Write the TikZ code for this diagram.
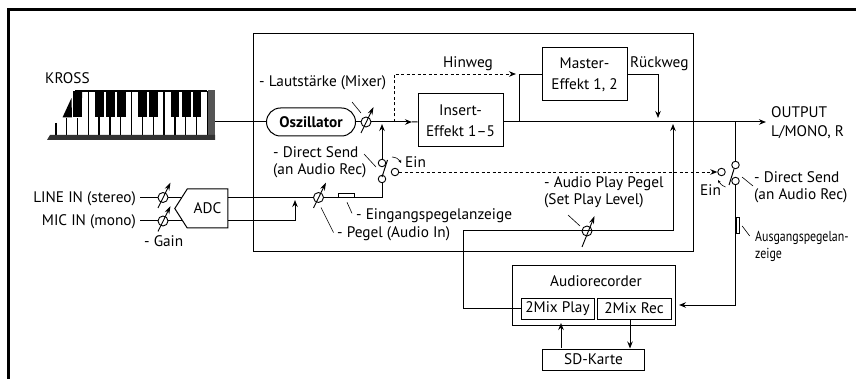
\documentclass[tikz,border=0pt]{standalone}
\usepackage{fontspec}
\setmainfont{PT Sans}
\newfontface\narrowface[FakeStretch=0.82]{PT Sans}
\usetikzlibrary{positioning, calc, backgrounds, arrows.meta, shapes.symbols}
\definecolor{kbdPanel}{HTML}{555555}
\definecolor{kbdBase}{HTML}{333333}
\newcommand{\pegel}[4]{%
  \node[knob] (#1) at (#2,#3) {};
  \draw[knobarr] ($(#1)+(-5,#4)$) -- ($(#1)+(7.5,-15)$);
}

\begin{document}
\begin{tikzpicture}[
    x=1pt, y=-1pt,
    >={Stealth[length=7pt,width=5.5pt]},
    box/.style={draw, line width=1pt, inner sep=0pt, align=center,
                font=\fontsize{15.3}{21}\selectfont},
    wire/.style={line width=1pt},
    arr/.style={->, line width=1pt},
    dasharr/.style={->, line width=0.9pt, dash pattern=on 3pt off 2.5pt},
    lead/.style={line width=0.6pt},
    knob/.style={circle, draw, line width=0.9pt, inner sep=0pt, minimum size=10pt},
    knobarr/.style={-{Stealth[length=8pt,width=5pt]}, line width=0.9pt},
    contact/.style={circle, draw, line width=0.9pt, inner sep=0pt, minimum size=7.5pt},
    meter/.style={draw, fill=white, line width=0.7pt, inner sep=0pt},
    lbl/.style={inner sep=0pt, anchor=west, align=left, text height=10pt, text depth=0pt,
                font=\fontsize{15.3}{17}\selectfont},
    multilbl/.style={inner sep=0pt, anchor=west, align=left,
                font=\fontsize{15.3}{17}\selectfont},
]
\useasboundingbox (0,0) rectangle (856,379);
\draw[line width=2.7pt] (8.7,379) |- (856,9.7);

% effects section
\node[draw, line width=1pt, minimum width=440pt, minimum height=218pt] (fx) at (473,143) {};

% keyboard
\node[minimum width=168pt, minimum height=49pt, inner sep=0pt] (kbd) at (131,115.5) {};
\foreach \x in {88.3,99,110,120.7,131.7,142.3,153.3,164,175,185.7,196.7,207.3}
    \draw[line width=1.1pt] (\x,91) -- (\x,135);
\foreach \x/\y in {56/123,66.7/118,77.3/118}
    \draw[line width=1.1pt] (\x,\y) -- (\x,135);
\foreach \x/\w in {73/9,95/8.5,106/8.5,117/8.5,138/9,149/8.5,171/8,182/8.5,192.5/8.5}
    \fill (\x,91) rectangle ++(\w,26.5);
\fill (72,117.5) -- (62.5,117.5) -- (71.5,98) -- cycle;
\fill[white] (71,91) rectangle (73,98);
\fill (73,98) -- (75,91) -- (82,91) -- (82,98) -- cycle;
\draw[line width=1.2pt] (75,91) -- (207,91);
\fill[kbdPanel] (207.5,90.5) rectangle (215,140);
\fill[kbdBase] (47,140) -- (50,135) -- (215,135) -- (215,140) -- cycle;
\node[lbl] (kross) at (45,79) {KROSS};

% signal path
\node[box, rounded corners=14pt, minimum width=89pt, minimum height=28pt,
      font=\fontsize{15.3}{15}\selectfont\bfseries] (osc) at (311,122) {Oszillator};
\pegel{vol}{366}{122}{11}
\node[box, minimum width=85pt, minimum height=53pt] (insert) at (460.5,120.5) {Insert-\\Effekt 1--5};
\node[box, minimum width=85pt, minimum height=53pt] (master) at (584.5,74.5) {Master-\\Effekt 1, 2};
\coordinate (voltip) at (412,122);
\coordinate (hintip) at (516,74);
\coordinate (hinbase) at (394,122);
\coordinate (mjoin) at (519,122);
\coordinate (rwtip) at (658,118);
\coordinate (outtip) at (766,122);
\coordinate (ojoin) at (735.5,122);
\coordinate (aptip) at (673,124);
\coordinate (swtip) at (382,124);
\draw[wire] (kbd.east |- osc) -- (osc);
\draw[wire] (osc) -- (vol);
\draw[arr] (vol) -- (voltip);
\draw[wire] (voltip) -- (insert);
\draw[arr] (insert.east |- osc) -- (outtip);
\draw[dasharr] (hinbase) |- (hintip);
\draw[wire] (mjoin) |- (master.west);
\draw[arr] (master.east) -| (rwtip);

% input side
\node[lbl, anchor=east] (linein) at (136,197.5) {LINE IN (stereo)};
\node[lbl, anchor=east] (micin) at (136,221) {MIC IN (mono)};
\pegel{linek}{163}{197.5}{10.5}
\pegel{mick}{163}{221}{10.5}
\node[draw, fill=white, line width=1pt, signal, signal to=west, signal pointer angle=115,
      minimum width=53pt, minimum height=39pt, inner sep=0pt,
      font=\fontsize{15.3}{15}\selectfont] (adc) at (207.5,208.5) {ADC};
\begin{scope}[on background layer]
\draw[wire, shorten <=4pt] (linein.east) -- (linek);
\draw[wire, shorten <=4pt] (micin.east) -- (mick);
\draw[wire] (linek) -- (linek -| adc.center);
\draw[wire] (mick) -- (mick -| adc.center);
\end{scope}
\pegel{ink}{318.5}{197.5}{10.5}
\coordinate (intip) at (295,200);
\draw[wire] (adc.east |- ink) -- (ink);
\draw[arr] (adc.east |- mick) -| (intip);
\node[contact] (swa) at (382,179) {};
\node[contact] (swb) at (382,163) {};
\node[contact] (swe) at (395,172) {};
\draw[wire] (ink) -| (swa);
\draw[arr] (swb) -- (swtip);
\draw[wire] ($(swa)+(0,-2)$) -- ($(swa)+(5.5,-19)$);
\node[meter, minimum width=16pt, minimum height=4pt] (inmeter) at (346,195.3) {};

% right switch
\node[contact] (swc) at (735.5,165) {};
\node[contact] (swd) at (735.5,181) {};
\node[contact] (swf) at (721.5,172) {};
\coordinate (rectip) at (679,305);
\draw[wire] (ojoin) -- (swc);
\draw[arr] (swd) |- (rectip);
\draw[wire] ($(swd)+(-6.5,4)$) -- ($(swd)+(-1.5,-12)$);
\draw[dasharr] (swe) -- (swf);
\node[meter, minimum width=3.5pt, minimum height=16pt] (outmeter) at (737.7,225) {};

% recorder
\node[box, minimum width=163pt, minimum height=60pt] (rec) at (593.5,295) {};
\node[inner sep=0pt, font=\fontsize{15.3}{15}\selectfont] (rectitle) at (596,281) {Audiorecorder};
\node[box, minimum width=73pt, minimum height=21pt] (play) at (557.5,308.5) {2Mix Play};
\node[box, minimum width=74pt, minimum height=21pt, right=2pt of play] (mixrec) {2Mix Rec};
\node[box, minimum width=102pt, minimum height=21pt, below=23pt of rec] (sd) {SD-Karte};
\pegel{apk}{587}{231}{16}
\coordinate (apleft) at (463,231);
\coordinate (sdtip) at (561,323);
\coordinate (sdbase) at (561,348);
\coordinate (recbase) at (630,319);
\draw[wire] (play.west) -| (apleft) -- (apk.center);
\draw[arr] (apk.center) -| (aptip);
\draw[arr] (sdbase) -- (sdtip);
\draw[arr] (recbase) -- (recbase |- sd.north);

% labels
\node[lbl] (hinlbl) at (443,63) {Hinweg};
\node[lbl] (rwlbl) at (630,63) {Rückweg};
\node[multilbl] (outlbl) at (771,123) {OUTPUT\\[2pt]L/MONO, R};
\node[lbl] (vollbl) at (259,82) {- Lautstärke (Mixer)};
\node[multilbl] (dslbl) at (273,162.5) {- Direct Send\\(an Audio Rec)};
\node[lbl] (einlbl) at (405,163) {Ein};
\node[lbl] (ein2lbl) at (700,191) {Ein};
\node[multilbl] (ds2lbl) at (754,187.5) {- Direct Send\\(an Audio Rec)};
\node[lbl] (inmlbl) at (356,215) {- Eingangspegelanzeige};
\node[lbl] (inlbl) at (337,233) {- Pegel (Audio In)};
\node[lbl] (gainlbl) at (144,242) {- Gain};
\node[multilbl] (aplbl) at (544,192) {- Audio Play Pegel\\(Set Play Level)};
\node[multilbl, font=\narrowface\fontsize{14.5}{17}\selectfont] (outmlbl) at (755,246) {Ausgangspegelan-\\zeige};

% leaders and small arrows
\draw[lead] ($(vol)+(-14,-20)$) -- ($(vol)+(-5,-9)$);
\draw[lead] ($(swb)+(-18,-9)$) -- ($(swb)+(-6,4)$);
\draw[lead] ($(ink)+(2.5,10)$) -- ($(ink)+(15,35)$);
\draw[lead] ($(inmeter)+(1,7)$) -- ($(inmeter)+(6,18)$);
\draw[lead] ($(apk)+(-19,-16)$) -- ($(apk)+(-7,-5)$);
\draw[lead] ($(swd)+(6.5,-4)$) -- ($(swd)+(17.5,5)$);
\draw[lead] ($(outmeter)+(4.5,1)$) -- ($(outmeter)+(12,11)$);
\draw[-{Stealth[length=3pt,width=3pt]}, line width=0.6pt] ($(swe)+(-3,-15)$) to[bend left=30] ($(swe)+(6,-9)$);
\draw[-{Stealth[length=3pt,width=3pt]}, line width=0.6pt] ($(swf)+(4,15)$) to[bend left=20] ($(swf)+(-3.5,8)$);
\end{tikzpicture}
\end{document}
